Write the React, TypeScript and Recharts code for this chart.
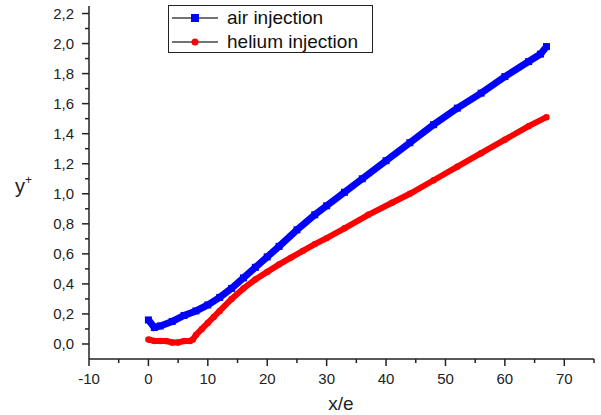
import { LineChart, Line, XAxis, YAxis, Label } from "recharts";

// x/e positions and y+ values
const airX = [0, 1, 2, 4, 6, 8, 10, 12, 14, 16, 18, 20, 22, 25, 28, 30, 33, 36, 40, 44, 48, 52, 56, 60, 64, 66, 67];
const airY = [0.16, 0.11, 0.12, 0.15, 0.19, 0.22, 0.26, 0.31, 0.37, 0.44, 0.51, 0.58, 0.65, 0.76, 0.86, 0.92, 1.01, 1.1, 1.22, 1.34, 1.46, 1.57, 1.67, 1.78, 1.88, 1.93, 1.98];

const heliumX = [0, 1, 2, 3, 4, 5, 6, 7, 7.5, 8, 9, 10, 11, 12, 14, 16, 18, 20, 22, 24, 26, 28, 30, 33, 37, 41, 44, 48, 52, 56, 60, 64, 67];
const heliumY = [0.03, 0.02, 0.02, 0.02, 0.01, 0.01, 0.02, 0.02, 0.03, 0.06, 0.1, 0.14, 0.18, 0.22, 0.3, 0.37, 0.43, 0.48, 0.53, 0.575, 0.62, 0.665, 0.705, 0.77, 0.86, 0.94, 1.0, 1.09, 1.18, 1.27, 1.36, 1.45, 1.51];

const xTicks = [-10, -5, 0, 5, 10, 15, 20, 25, 30, 35, 40, 45, 50, 55, 60, 65, 70, 75];
const yTicks = [0, 0.1, 0.2, 0.3, 0.4, 0.5, 0.6, 0.7, 0.8, 0.9, 1.0, 1.1, 1.2, 1.3, 1.4, 1.5, 1.6, 1.7, 1.8, 1.9, 2.0, 2.1, 2.2];

const airData = airX.map((x, i) => ({ x, y: airY[i] }));
const heliumData = heliumX.map((x, i) => ({ x, y: heliumY[i] }));

const FONT = "'Liberation Sans', Arial, sans-serif";
const INK = "#222";
const BLUE = "#0000ff";
const RED = "#ff0000";

function XTick({ x, y, payload }: any) {
  const major = payload.value % 10 === 0;
  return (
    <g>
      <line x1={x} x2={x} y1={y} y2={y + (major ? 7 : 4)} stroke={INK} strokeWidth={1.5} />
      {major && (
        <text x={x} y={y + 25} textAnchor="middle" fontSize={15} fill={INK} fontFamily={FONT}>
          {payload.value}
        </text>
      )}
    </g>
  );
}

function YTick({ x, y, payload }: any) {
  const major = Math.round(payload.value * 10) % 2 === 0;
  return (
    <g>
      <line x1={x - (major ? 7 : 4)} x2={x} y1={y} y2={y} stroke={INK} strokeWidth={1.5} />
      {major && (
        <text x={x - 15} y={y + 5} textAnchor="end" fontSize={15} fill={INK} fontFamily={FONT}>
          {payload.value.toFixed(1).replace(".", ",")}
        </text>
      )}
    </g>
  );
}

function SquareDot({ cx, cy, index }: any) {
  return <rect key={`a${index}`} x={cx - 3.5} y={cy - 3.5} width={7} height={7} fill={BLUE} />;
}

function RoundDot({ cx, cy, index }: any) {
  return <circle key={`h${index}`} cx={cx} cy={cy} r={3.2} fill={RED} />;
}

// legend drawn as a plain box over the chart so it takes no room from the plot
function LegendBox() {
  const row = (label: string, marker: React.ReactNode) => (
    <div style={{ display: "flex", alignItems: "center", height: 24 }}>
      <svg width={50} height={12} style={{ marginLeft: 3 }}>
        <line x1={0} x2={46} y1={6} y2={6} stroke="#444" strokeWidth={1.5} />
        {marker}
      </svg>
      <span style={{ marginLeft: 5, fontSize: 19, color: "#111", fontFamily: FONT, whiteSpace: "nowrap" }}>{label}</span>
    </div>
  );
  return (
    <div
      style={{
        position: "absolute",
        left: 168,
        top: 5,
        border: `1.5px solid ${INK}`,
        background: "#fff",
        width: 203,
        height: 46,
      }}
    >
      {row("air injection", <rect x={19} y={2} width={8} height={8} fill={BLUE} />)}
      {row("helium injection", <circle cx={23} cy={6} r={3.5} fill={RED} />)}
    </div>
  );
}

export default function App() {
  return (
    <div style={{ position: "absolute", left: 0, top: 0, width: 601, height: 415, background: "#fff" }}>
      <LineChart width={601} height={415} margin={{ top: 6, right: 7, left: 0, bottom: 26 }}>
        <XAxis
          dataKey="x"
          type="number"
          domain={[-10, 75]}
          ticks={xTicks}
          interval={0}
          allowDataOverflow
          height={30}
          tickSize={0}
          tickMargin={0}
          tickLine={false}
          tick={<XTick />}
          axisLine={{ stroke: INK, strokeWidth: 1.5 }}
        >
          <Label
            content={() => (
              <text x={341} y={410} textAnchor="middle" fontSize={19} fill={INK} fontFamily={FONT}>
                x/e
              </text>
            )}
          />
        </XAxis>
        <YAxis
          type="number"
          domain={[-0.1, 2.25]}
          ticks={yTicks}
          interval={0}
          allowDataOverflow
          width={89}
          tickSize={0}
          tickMargin={0}
          tickLine={false}
          tick={<YTick />}
          axisLine={{ stroke: INK, strokeWidth: 1.5 }}
        >
          <Label
            content={() => (
              <text x={15} y={193} fontSize={20} fill={INK} fontFamily={FONT}>
                y<tspan fontSize={12} dy={-9}>+</tspan>
              </text>
            )}
          />
        </YAxis>
        <Line
          data={airData}
          dataKey="y"
          name="air injection"
          type="linear"
          stroke={BLUE}
          strokeWidth={7}
          dot={SquareDot}
          isAnimationActive={false}
        />
        <Line
          data={heliumData}
          dataKey="y"
          name="helium injection"
          type="linear"
          stroke={RED}
          strokeWidth={6}
          dot={RoundDot}
          isAnimationActive={false}
        />
      </LineChart>
      <LegendBox />
    </div>
  );
}
